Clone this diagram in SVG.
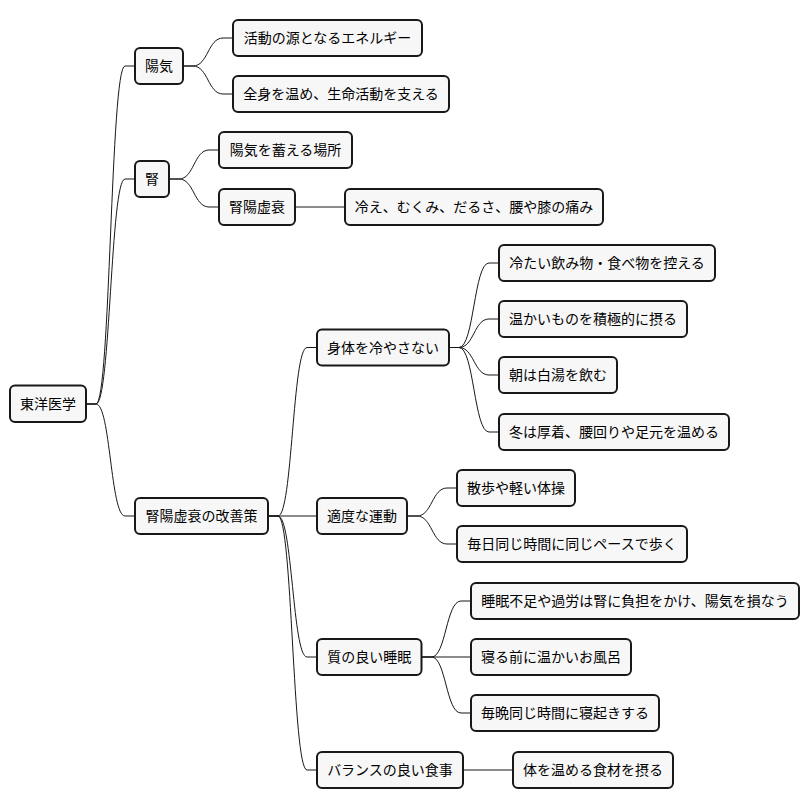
<svg xmlns="http://www.w3.org/2000/svg" width="810" height="809" viewBox="0 0 810 809">
<style>
.n rect{fill:#F7F7F7;stroke:#181818;stroke-width:2}
.n text{font-family:"Noto Sans CJK JP","Noto Sans",sans-serif;font-size:14px;fill:#000;text-anchor:middle}
.c path{fill:none;stroke:#181818;stroke-width:1}
</style>
<rect width="810" height="809" fill="#fff"/>
<g class="c">
<path d="M86,404 H96 C110.5,404 110.5,66 125,66 H135"/>
<path d="M86,404 H96 C110.5,404 110.5,179 125,179 H135"/>
<path d="M86,404 H96 C110.5,404 110.5,516 125,516 H135"/>
<path d="M183,66 H193 C208,66 208,38 223,38 H233"/>
<path d="M183,66 H193 C208,66 208,94 223,94 H233"/>
<path d="M169,179 H179 C194,179 194,150 209,150 H219"/>
<path d="M169,179 H179 C194,179 194,207 209,207 H219"/>
<path d="M295,207 H345"/>
<path d="M268,516 H278 C292.5,516 292.5,347.5 307,347.5 H317"/>
<path d="M268,516 H317"/>
<path d="M268,516 H278 C292.5,516 292.5,657 307,657 H317"/>
<path d="M268,516 H278 C292.5,516 292.5,770 307,770 H317"/>
<path d="M449,347.5 H459 C474,347.5 474,263 489,263 H499"/>
<path d="M449,347.5 H459 C474,347.5 474,319 489,319 H499"/>
<path d="M449,347.5 H459 C474,347.5 474,375 489,375 H499"/>
<path d="M449,347.5 H459 C474,347.5 474,432 489,432 H499"/>
<path d="M407,516 H417 C432,516 432,488 447,488 H457"/>
<path d="M407,516 H417 C432,516 432,544 447,544 H457"/>
<path d="M421.5,657 H431.5 C446,657 446,601 461,601 H471"/>
<path d="M421.5,657 H471"/>
<path d="M421.5,657 H431.5 C446,657 446,713 461,713 H471"/>
<path d="M463,770 H513"/>
</g>
<g id="root" class="n"><rect x="10" y="385.5" width="76" height="36.5" rx="5"/><text x="48" y="408.5">東洋医学</text></g>
<g id="yangqi" class="n"><rect x="135" y="48" width="48" height="36" rx="5"/><text x="159" y="71">陽気</text></g>
<g id="yq1" class="n"><rect x="233" y="20" width="189" height="36" rx="5"/><text x="327.5" y="43">活動の源となるエネルギー</text></g>
<g id="yq2" class="n"><rect x="233" y="76" width="216" height="36" rx="5"/><text x="341" y="99">全身を温め、生命活動を支える</text></g>
<g id="jin" class="n"><rect x="135" y="161" width="34" height="36" rx="5"/><text x="152" y="184">腎</text></g>
<g id="jin1" class="n"><rect x="219" y="132" width="133" height="36" rx="5"/><text x="285.5" y="155">陽気を蓄える場所</text></g>
<g id="jin2" class="n"><rect x="219" y="189" width="76" height="36" rx="5"/><text x="257" y="212">腎陽虚衰</text></g>
<g id="jin2a" class="n"><rect x="345" y="189" width="258" height="36" rx="5"/><text x="474" y="212">冷え、むくみ、だるさ、腰や膝の痛み</text></g>
<g id="kaizen" class="n"><rect x="135" y="498" width="133" height="36" rx="5"/><text x="201.5" y="521">腎陽虚衰の改善策</text></g>
<g id="hie" class="n"><rect x="317" y="329.5" width="132" height="36" rx="5"/><text x="383" y="352.5">身体を冷やさない</text></g>
<g id="hie1" class="n"><rect x="499" y="245" width="216" height="36" rx="5"/><text x="607" y="268">冷たい飲み物・食べ物を控える</text></g>
<g id="hie2" class="n"><rect x="499" y="301" width="188" height="36" rx="5"/><text x="593" y="324">温かいものを積極的に摂る</text></g>
<g id="hie3" class="n"><rect x="499" y="357" width="118" height="36" rx="5"/><text x="558" y="380">朝は白湯を飲む</text></g>
<g id="hie4" class="n"><rect x="499" y="414" width="230" height="36" rx="5"/><text x="614" y="437">冬は厚着、腰回りや足元を温める</text></g>
<g id="undo" class="n"><rect x="317" y="498" width="90" height="36" rx="5"/><text x="362" y="521">適度な運動</text></g>
<g id="undo1" class="n"><rect x="457" y="470" width="118" height="36" rx="5"/><text x="516" y="493">散歩や軽い体操</text></g>
<g id="undo2" class="n"><rect x="457" y="526" width="230" height="36" rx="5"/><text x="572" y="549">毎日同じ時間に同じペースで歩く</text></g>
<g id="sleep" class="n"><rect x="317" y="639" width="104.5" height="36" rx="5"/><text x="369.25" y="662">質の良い睡眠</text></g>
<g id="sleep1" class="n"><rect x="471" y="583" width="328" height="36" rx="5"/><text x="635" y="606">睡眠不足や過労は腎に負担をかけ、陽気を損なう</text></g>
<g id="sleep2" class="n"><rect x="471" y="639" width="160" height="36" rx="5"/><text x="551" y="662">寝る前に温かいお風呂</text></g>
<g id="sleep3" class="n"><rect x="471" y="695" width="188" height="36" rx="5"/><text x="565" y="718">毎晩同じ時間に寝起きする</text></g>
<g id="food" class="n"><rect x="317" y="752" width="146" height="36" rx="5"/><text x="390" y="775">バランスの良い食事</text></g>
<g id="food1" class="n"><rect x="513" y="752" width="160" height="36" rx="5"/><text x="593" y="775">体を温める食材を摂る</text></g>
</svg>
